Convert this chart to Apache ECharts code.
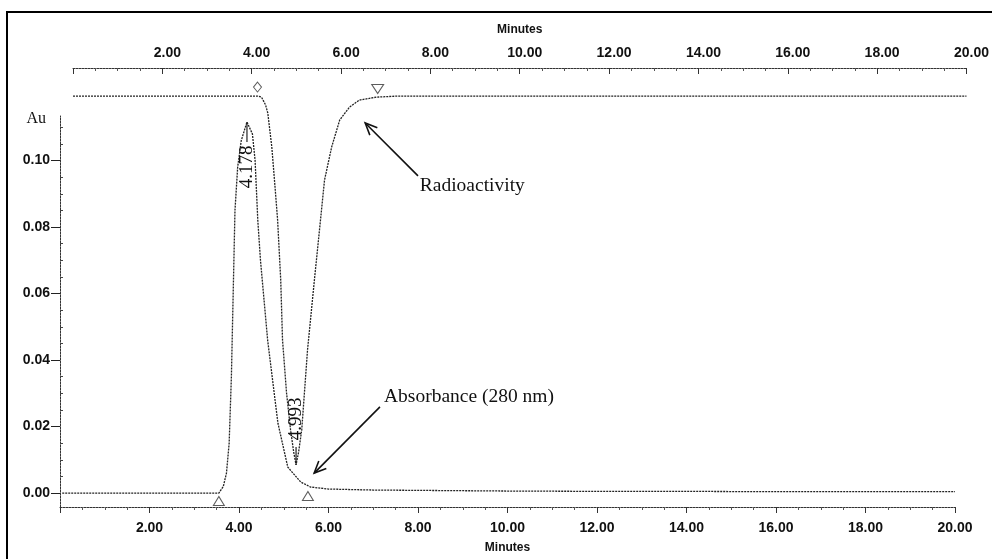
<!DOCTYPE html>
<html><head><meta charset="utf-8">
<script src="https://cdn.jsdelivr.net/npm/echarts@6/dist/echarts.min.js"></script>
<style>html,body{margin:0;padding:0;background:#fff}#c{width:992px;height:559px}</style>
</head><body><div id="c"></div>
<script>
// ---- data ----
// Absorbance (280 nm) trace, bottom time axis (minutes), Au
const absTime  = [0.05, 1.0, 2.0, 3.0, 3.55, 3.65, 3.72, 3.78, 3.83, 3.87, 3.91, 3.97, 4.05, 4.178, 4.30, 4.36, 4.42, 4.48, 4.64, 4.87, 5.09, 5.38, 5.60, 6.0, 7.0, 8.0, 10.0, 12.0, 14.0, 16.0, 18.0, 20.0];
const absValue = [0, 0, 0, 0, 0, 0.002, 0.006, 0.015, 0.035, 0.060, 0.085, 0.098, 0.106, 0.1116, 0.108, 0.100, 0.082, 0.070, 0.046, 0.021, 0.0078, 0.0033, 0.0018, 0.0012, 0.0009, 0.0008, 0.0006, 0.0005, 0.0005, 0.0004, 0.0004, 0.0004];
// Radioactivity trace, top time axis (minutes), relative signal (% of peak), drawn inverted
const radTime  = [0.0, 2.0, 4.13, 4.22, 4.31, 4.36, 4.45, 4.51, 4.58, 4.65, 4.69, 4.78, 4.87, 4.94, 4.993, 5.05, 5.12, 5.18, 5.25, 5.41, 5.54, 5.63, 5.79, 5.97, 6.19, 6.41, 6.79, 7.3, 10.0, 15.0, 20.0];
const radValue = [0, 0, 0, 0.3, 2.4, 4.6, 13.8, 22.8, 33.6, 49.9, 66.1, 80.5, 90.5, 96.5, 100, 96.5, 90.5, 80.5, 68.8, 49.1, 33.6, 22.8, 13.8, 6.5, 3.0, 1.1, 0.3, 0, 0, 0, 0];
// Peak retention labels
const absPeakLabels = ['4.178'];
const absPeakPoints = [[4.178, 0.1116]];
const radPeakLabels = ['4.993'];
const radPeakPoints = [[4.993, 100]];
// Integration markers
const absMarkerPoints = [[3.55, 0], [5.54, 0.0015]];
const radStartMarkers = [[4.13, 0]];
const radEndMarkers = [[6.82, 0]];
// Tick values
const xTickInterval = 2;
const yMajorTicks = [0, 0.02, 0.04, 0.06, 0.08, 0.10];
const yMinorTicks = [0.005, 0.01, 0.015, 0.025, 0.03, 0.035, 0.045, 0.05, 0.055, 0.065, 0.07, 0.075, 0.085, 0.09, 0.095, 0.105, 0.11];
// Annotations: [tailT, tailV, headT, headV, textT, textV]
const annotationTexts = ['Radioactivity', 'Absorbance (280 nm)'];
const annotationPoints = [[8.0, 0.0954, 6.82, 0.1113, 8.04, 0.0923], [7.15, 0.0259, 5.68, 0.0060, 7.24, 0.0289]];

const absData = absTime.map((t, i) => [t, absValue[i]]);
const radData = radTime.map((t, i) => [t, radValue[i]]);

const ink = '#222';
const curveStyle = { color: ink, width: 1.3, type: [2, 1] };
const axisFont = { fontFamily: '"Liberation Sans", Arial, sans-serif', fontWeight: 'bold', fontSize: 14, color: '#111' };
const serif = '"Liberation Serif", "Times New Roman", serif';

const chart = echarts.init(document.getElementById('c'), null, { renderer: 'canvas' });

function peakLabel(points, labels, lineLen, textOffset) {
  return function (params, api) {
    const p = api.coord([api.value(0), api.value(1)]);
    return {
      type: 'group',
      children: [
        { type: 'line', shape: { x1: p[0], y1: p[1], x2: p[0], y2: p[1] + lineLen }, style: { stroke: ink, lineWidth: 1.2 } },
        { type: 'text', x: p[0], y: p[1] + textOffset, rotation: Math.PI / 2,
          style: { text: labels[params.dataIndex], align: 'center', verticalAlign: 'middle', font: '19px ' + serif, fill: '#111' } }
      ]
    };
  };
}

function annotationItem(params, api) {
  const tail = api.coord([api.value(0), api.value(1)]);
  const head = api.coord([api.value(2), api.value(3)]);
  const tp = api.coord([api.value(4), api.value(5)]);
  const ang = Math.atan2(tail[1] - head[1], tail[0] - head[0]);
  const L = 13, a = 0.42;
  const w1 = [head[0] + L * Math.cos(ang + a), head[1] + L * Math.sin(ang + a)];
  const w2 = [head[0] + L * Math.cos(ang - a), head[1] + L * Math.sin(ang - a)];
  return {
    type: 'group',
    children: [
      { type: 'line', shape: { x1: tail[0], y1: tail[1], x2: head[0], y2: head[1] }, style: { stroke: '#111', lineWidth: 1.6 } },
      { type: 'polyline', shape: { points: [w1, head, w2] }, style: { stroke: '#111', lineWidth: 1.6, fill: null } },
      { type: 'text', x: tp[0], y: tp[1], style: { text: annotationTexts[params.dataIndex], align: 'left', verticalAlign: 'middle', font: '19.5px ' + serif, fill: '#111' } }
    ]
  };
}

const option = {
  animation: false,
  backgroundColor: '#fff',
  graphic: [{ type: 'rect', shape: { x: 7, y: 12, width: 1000, height: 600 }, style: { fill: 'none', stroke: '#000', lineWidth: 2 }, silent: true }],
  grid: [
    { left: 60, right: 37, top: 116, bottom: 52 },
    { left: 73, right: 24, top: 68, bottom: 52 }
  ],
  xAxis: [
    { gridIndex: 0, type: 'value', position: 'bottom', min: 0, max: 20, interval: xTickInterval,
      name: 'Minutes', nameLocation: 'middle', nameGap: 35,
      nameTextStyle: { fontFamily: '"Liberation Sans", Arial, sans-serif', fontWeight: 'bold', fontSize: 12, color: '#111' },
      axisLine: { show: true, onZero: false, lineStyle: { color: '#333', width: 1, type: [2, 1] } },
      axisTick: { show: true, length: 6, lineStyle: { color: '#333' } },
      minorTick: { show: true, splitNumber: 4, length: 3, lineStyle: { color: '#555' } },
      axisLabel: Object.assign({ margin: 14, formatter: v => v === 0 ? '' : v.toFixed(2) }, axisFont),
      splitLine: { show: false } },
    { gridIndex: 1, type: 'value', position: 'top', min: 0, max: 20, interval: xTickInterval,
      name: 'Minutes', nameLocation: 'middle', nameGap: 32,
      nameTextStyle: { fontFamily: '"Liberation Sans", Arial, sans-serif', fontWeight: 'bold', fontSize: 12, color: '#111' },
      axisLine: { show: true, onZero: false, lineStyle: { color: '#333', width: 1, type: [2, 1] } },
      axisTick: { show: true, inside: true, length: 6, lineStyle: { color: '#333' } },
      minorTick: { show: true, splitNumber: 4, length: 3, lineStyle: { color: '#555' } },
      axisLabel: Object.assign({ margin: 8, padding: [0, 0, 0, 10], formatter: v => v === 0 ? '' : v.toFixed(2) }, axisFont),
      splitLine: { show: false } }
  ],
  yAxis: [
    { gridIndex: 0, type: 'value', min: -0.0042, max: 0.1134,
      name: 'Au', nameLocation: 'end', nameGap: -3,
      nameTextStyle: { fontFamily: serif, fontSize: 16, color: '#111', align: 'right', verticalAlign: 'middle', padding: [0, 14, 0, 0] },
      axisLine: { show: true, onZero: false, lineStyle: { color: '#333', width: 1, type: [2, 1] } },
      axisTick: { show: true, length: 9, customValues: yMajorTicks, lineStyle: { color: '#222' } },
      axisLabel: Object.assign({ margin: 10, customValues: yMajorTicks, formatter: v => v.toFixed(2) }, axisFont),
      splitLine: { show: false } },
    { gridIndex: 0, type: 'value', min: -0.0042, max: 0.1134,
      axisLine: { show: false },
      axisTick: { show: true, length: 3, customValues: yMinorTicks, lineStyle: { color: '#444' } },
      axisLabel: { show: false }, splitLine: { show: false } },
    { gridIndex: 1, type: 'value', inverse: true, min: -7.6, max: 111.4, show: false }
  ],
  series: [
    { name: 'Absorbance (280 nm)', type: 'line', xAxisIndex: 0, yAxisIndex: 0, data: absData, showSymbol: false, lineStyle: curveStyle, z: 3 },
    { name: 'Radioactivity', type: 'line', xAxisIndex: 1, yAxisIndex: 2, data: radData, showSymbol: false, lineStyle: curveStyle, z: 3 },
    { type: 'scatter', xAxisIndex: 0, yAxisIndex: 0, data: absMarkerPoints, symbol: 'triangle', symbolSize: [11, 9], symbolOffset: [0, 8],
      itemStyle: { color: '#fff', borderColor: '#333', borderWidth: 1 }, z: 4 },
    { type: 'scatter', xAxisIndex: 1, yAxisIndex: 2, data: radStartMarkers, symbol: 'diamond', symbolSize: [8, 10], symbolOffset: [0, -9],
      itemStyle: { color: '#fff', borderColor: '#333', borderWidth: 1 }, z: 4 },
    { type: 'scatter', xAxisIndex: 1, yAxisIndex: 2, data: radEndMarkers, symbol: 'triangle', symbolRotate: 180, symbolSize: [12, 9], symbolOffset: [0, -7],
      itemStyle: { color: '#fff', borderColor: '#333', borderWidth: 1 }, z: 4 },
    { type: 'custom', xAxisIndex: 0, yAxisIndex: 0, data: absPeakPoints, renderItem: peakLabel(absPeakPoints, absPeakLabels, 20, 45), clip: false, z: 5 },
    { type: 'custom', xAxisIndex: 1, yAxisIndex: 2, data: radPeakPoints, renderItem: peakLabel(radPeakPoints, radPeakLabels, -18, -46), clip: false, z: 5 },
    { type: 'custom', xAxisIndex: 0, yAxisIndex: 0, data: annotationPoints, encode: { x: [0, 2, 4], y: [1, 3, 5] }, renderItem: annotationItem, clip: false, z: 5 }
  ]
};
chart.setOption(option);
</script>
</body></html>
